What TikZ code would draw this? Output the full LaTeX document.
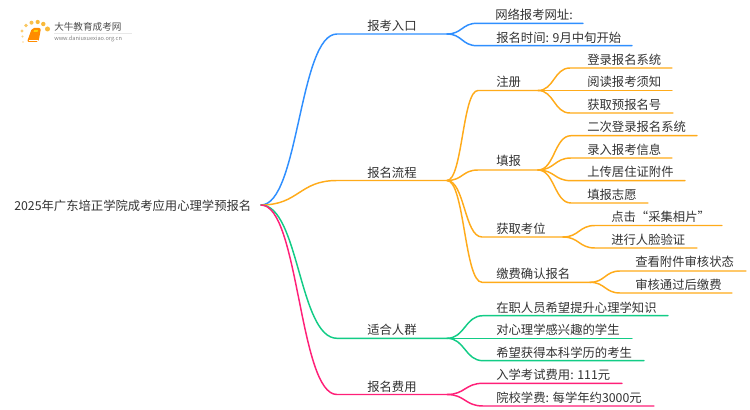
\documentclass[tikz,border=0pt]{standalone}
\usepackage{fontspec}
\setmainfont{Noto Sans CJK SC}
\usetikzlibrary{calc}
\definecolor{cblue}{HTML}{2F8FFF}
\definecolor{corange}{HTML}{FFAB1A}
\definecolor{cgreen}{HTML}{12CC86}
\definecolor{cpink}{HTML}{FF2078}
\definecolor{ctext}{HTML}{333333}
\definecolor{cdot}{HTML}{F9B93A}
\tikzset{
  txt/.style={anchor=west,inner sep=0pt,text=ctext,font=\fontsize{9.25pt}{11pt}\selectfont,text height=7pt,text depth=1.5pt,yshift=-1.3pt},
  branch/.style={line width=1.1pt,line cap=round},
}
% #1 colour, #2 name, #3 text x, #4 text y, #5 text, #6 line start x, #7 line y, #8 line end x, #9 parent
\newcommand\mmitem[9]{%
  \node[txt] (#2) at (#3,#4) {#5};
  \coordinate (#2-l) at (#6,#7);
  \coordinate (#2-r) at (#8,#7);
  \coordinate (m) at ($(#9)!.5!(#2-l)$);
  \draw[branch,#1] (#9) .. controls (#9 -| m) and (#2-l -| m) .. (#2-l) -- (#2-r);
}
\begin{document}
\begin{tikzpicture}[x=0.75pt,y=-0.75pt]
\useasboundingbox (0,0) rectangle (750,410);
\fill[white] (0,0) rectangle (750,410);
% logo
\fill[cdot!50] (23,42) circle (0.9);
\fill[cdot!70] (22,31) circle (1.6);
\fill[cdot!80] (26,25.5) circle (1.8);
\fill[cdot!90] (31.5,22.7) circle (2);
\fill[cdot] (37.7,22) circle (2.1);
\fill[cdot] (43.3,24) circle (2.2);
\fill[cdot] (47.5,29) circle (2.5);
\fill[cdot!60] (22.5,36.5) circle (1.2);
\fill[orange!90!yellow,rounded corners=1.5pt] (32,28) -- (41,28) -- (38.5,42) -- (27,42) -- cycle;
\draw[white,line width=0.4pt] (28.5,40) -- (38,40);
\fill[yellow!70!orange] (34,30) -- (38,30) -- (37.5,32) -- (33.5,32) -- cycle;
\node[inner sep=0pt,anchor=west,text=black!70,font=\fontsize{7.2pt}{8pt}\selectfont] (logoa) at (54,27) {大牛教育成考网};
\fill[gray!18] (54,33.2) rectangle (132,33.8);
\node[inner sep=0pt,anchor=west,text=black!50,font=\fontsize{4.2pt}{5pt}\selectfont] (logob) at (54,39) {www.daniuxuexiao.org.cn};
% root
\node[txt] (root) at (14,205) {2025年广东培正学院成考应用心理学预报名};
\coordinate (root-r) at (261,205);
% first level
\mmitem{cblue}{a}{367}{25}{报考入口}{337}{34}{447}{root-r}
\mmitem{corange}{b}{367}{172}{报名流程}{337}{180.5}{447}{root-r}
\mmitem{cgreen}{c}{367}{329}{适合人群}{337}{338.3}{447}{root-r}
\mmitem{cpink}{d}{367}{386}{报名费用}{337}{394.5}{447}{root-r}
% blue
\mmitem{cblue}{a1}{495}{14}{网络报考网址:}{477}{23.3}{583}{a-r}
\mmitem{cblue}{a2}{496}{37}{报名时间: 9月中旬开始}{477}{45.7}{632}{a-r}
% orange
\mmitem{corange}{b1}{496}{81}{注册}{478}{90.5}{538}{b-r}
\mmitem{corange}{b2}{496}{160}{填报}{478}{170}{538}{b-r}
\mmitem{corange}{b3}{496}{228}{获取考位}{482}{237}{563}{b-r}
\mmitem{corange}{b4}{496}{273}{缴费确认报名}{482}{282.3}{590}{b-r}
\mmitem{corange}{b11}{587}{59}{登录报名系统}{570}{68}{672}{b1-r}
\mmitem{corange}{b12}{587}{81}{阅读报考须知}{570}{90.5}{672}{b1-r}
\mmitem{corange}{b13}{587}{104}{获取预报名号}{570}{113}{673}{b1-r}
\mmitem{corange}{b21}{587}{126}{二次登录报名系统}{571}{135.7}{697}{b2-r}
\mmitem{corange}{b22}{587}{149}{录入报考信息}{571}{158}{672}{b2-r}
\mmitem{corange}{b23}{587}{171}{上传居住证附件}{571}{180.7}{685}{b2-r}
\mmitem{corange}{b24}{587}{194}{填报志愿}{571}{203}{648}{b2-r}
\mmitem{corange}{b31}{611}{216}{点击“采集相片”}{595}{225.5}{722}{b3-r}
\mmitem{corange}{b32}{611}{239}{进行人脸验证}{595}{248}{697}{b3-r}
\mmitem{corange}{b41}{635}{261}{查看附件审核状态}{620}{271}{746}{b4-r}
\mmitem{corange}{b42}{635}{284}{审核通过后缴费}{620}{293}{732}{b4-r}
% green
\mmitem{cgreen}{c1}{496}{307}{在职人员希望提升心理学知识}{483}{315.7}{668}{c-r}
\mmitem{cgreen}{c2}{496}{329}{对心理学感兴趣的学生}{483}{338.3}{632}{c-r}
\mmitem{cgreen}{c3}{496}{352}{希望获得本科学历的考生}{483}{360.7}{644}{c-r}
% pink
\mmitem{cpink}{d1}{496}{374}{入学考试费用: 111元}{483}{383.3}{622}{d-r}
\mmitem{cpink}{d2}{496}{397}{院校学费: 每学年约3000元}{483}{406}{654}{d-r}
\end{tikzpicture}
\end{document}
